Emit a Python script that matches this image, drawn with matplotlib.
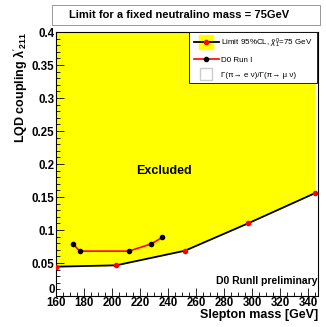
import matplotlib
matplotlib.use("Agg")
import matplotlib.pyplot as plt
from matplotlib.lines import Line2D
from matplotlib.patches import Rectangle
from matplotlib.ticker import MultipleLocator

plt.rcParams['font.family'] = ['Liberation Sans', 'DejaVu Sans']
plt.rcParams['mathtext.fontset'] = 'custom'
plt.rcParams['mathtext.rm'] = 'Liberation Sans'
plt.rcParams['mathtext.it'] = 'Liberation Sans:italic'
plt.rcParams['mathtext.bf'] = 'Liberation Sans:bold'

# Data
limit_mass = [160, 203, 252, 297, 345]
limit_coupling = [0.0444, 0.0465, 0.0686, 0.110, 0.156]
run1_mass = [172, 177, 212, 228, 236]
run1_coupling = [0.079, 0.068, 0.068, 0.079, 0.089]

title = "Limit for a fixed neutralino mass = 75GeV"
xlabel = "Slepton mass [GeV]"
legend_labels = [r"Limit 95%CL, $\tilde{\chi}^0_1$=75 GeV", "D0 Run I",
                 "Γ(π→ e ν)/Γ(π→ μ ν)"]
xticks = [160, 180, 200, 220, 240, 260, 280, 300, 320, 340]
yticks = [0, 0.05, 0.1, 0.15, 0.2, 0.25, 0.3, 0.35, 0.4]
yticklabels = ['0', '0.05', '0.1', '0.15', '0.2', '0.25', '0.3', '0.35', '0.4']

fig = plt.figure(figsize=(3.26, 3.27), dpi=100)
ax = fig.add_axes([0.1718, 0.0948, 0.9755 - 0.1718, 0.9021 - 0.0948])

xmin, xmax = 160, 347
ymin, ymax = 0, 0.4
ax.set_xlim(xmin, xmax)
ax.set_ylim(ymin, ymax)

yellow = '#ffff00'
ax.fill_between(limit_mass, limit_coupling, ymax, color=yellow, lw=0, zorder=1)
ax.plot(limit_mass, limit_coupling, color='black', lw=1.3, zorder=3)
ax.plot(limit_mass, limit_coupling, 'o', color='red', ms=3, mec='red', zorder=4)
ax.plot(run1_mass, run1_coupling, color='red', lw=1.2, zorder=3)
ax.plot(run1_mass, run1_coupling, 'o', color='black', ms=3, zorder=4)

ax.text(237, 0.19, "Excluded", fontsize=9, fontweight='bold', ha='center', va='center')
ax.text(0.997, 0.038, "D0 RunII preliminary", transform=ax.transAxes,
        fontsize=7.5, fontweight='bold', ha='right', va='bottom')

ax.xaxis.set_minor_locator(MultipleLocator(5))
ax.yaxis.set_minor_locator(MultipleLocator(0.01))
ax.tick_params(which='both', direction='in', top=False, right=False, width=0.6)
ax.tick_params(which='major', length=6, labelsize=8.3, pad=1.0)
ax.tick_params(which='minor', length=3)
ax.set_xticks(xticks)
ax.set_xticklabels([str(v) for v in xticks], fontweight='bold')
ax.set_yticks(yticks)
ax.set_yticklabels(yticklabels, fontweight='bold')
for lbl in ax.get_yticklabels():
    if lbl.get_text() == '0':
        lbl.set_verticalalignment('bottom')
for s in ax.spines.values():
    s.set_linewidth(0.8)

ax.set_xlabel(xlabel, fontsize=9, fontweight='bold', loc='right', labelpad=0)
ax.set_ylabel(r"LQD coupling $\mathbf{\lambda}'_{\mathbf{211}}$", fontsize=9,
              fontweight='bold', loc='top', labelpad=1)

# Legend
h1 = (Line2D([], [], marker='s', ms=10, color=yellow, ls='none'),
      Line2D([], [], color='black', lw=1.3, marker='o', ms=3, mfc='red', mec='red'))
h2 = Line2D([], [], color='red', lw=1.2, marker='o', ms=3, mfc='black', mec='black')
h3 = Line2D([], [], marker='s', ms=9, mfc='white', mec='#cccccc', ls='none')
leg = ax.legend([h1, h2, h3], legend_labels, loc='upper right',
                bbox_to_anchor=(0.997, 1.0), fontsize=5.8, frameon=True,
                fancybox=False, edgecolor='black', framealpha=1,
                borderpad=0.55, labelspacing=0.85, handlelength=3.1,
                handletextpad=0.35, borderaxespad=0.0)
leg.get_frame().set_linewidth(0.6)

# Title box
fig.patches.append(Rectangle((0.158, 0.925), 0.825, 0.061, transform=fig.transFigure,
                             facecolor='white', edgecolor='#888888', lw=0.6))
fig.text(0.55, 0.955, title, fontsize=8.0, fontweight='bold', ha='center', va='center')

fig.savefig('out.png', dpi=100)
